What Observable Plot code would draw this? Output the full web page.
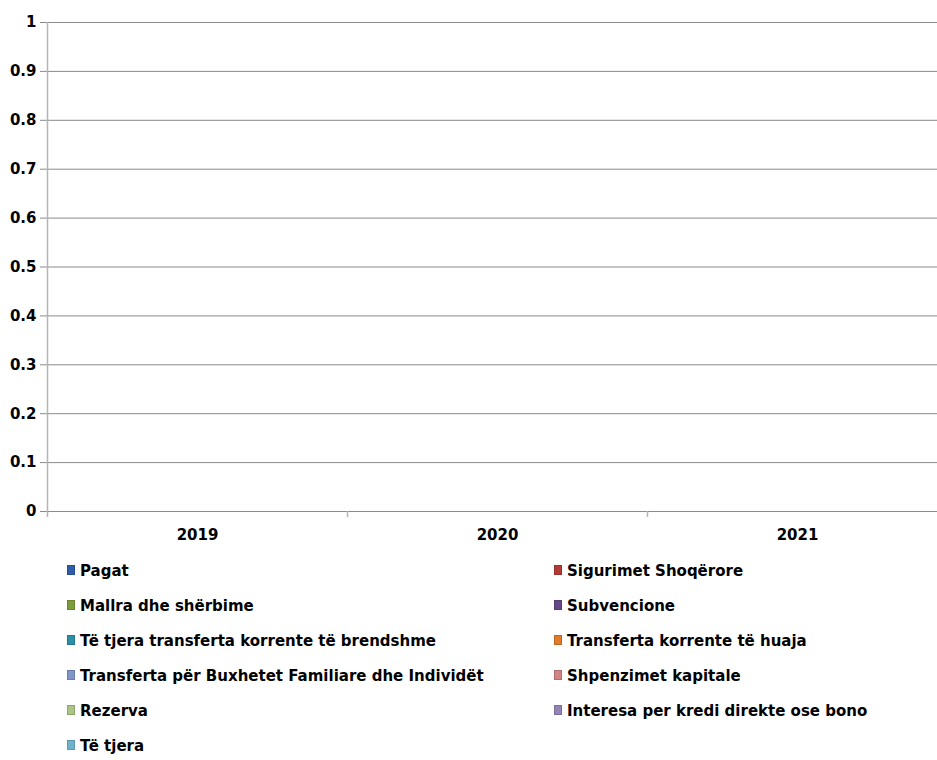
<!DOCTYPE html>
<html>
<head>
<meta charset="utf-8">
<script src="https://cdn.jsdelivr.net/npm/d3@7"></script>
<script src="https://cdn.jsdelivr.net/npm/@observablehq/plot@0.6"></script>
<style>
  body { margin: 0; background: #fff; font-family: "DejaVu Sans", sans-serif; }
  #legend { position: relative; width: 937px; font-weight: bold; font-size: 15px; color: #000; }
  .row { position: relative; height: 35px; }
  .item { display: flex; align-items: center; height: 35px; }
  .item.left { position: absolute; left: 67px; }
  .item.right { position: absolute; left: 554px; }
  .sw { width: 8px; height: 10px; margin-right: 5px; margin-top: -2px; box-sizing: border-box; }
</style>
</head>
<body>
<div id="chart"></div>
<div id="legend"></div>
<script>
const years = ["2019", "2020", "2021"];
const series = [
  "Pagat",
  "Sigurimet Shoqërore",
  "Mallra dhe shërbime",
  "Subvencione",
  "Të tjera transferta korrente të brendshme",
  "Transferta korrente të huaja",
  "Transferta për Buxhetet Familiare dhe Individët",
  "Shpenzimet kapitale",
  "Rezerva",
  "Interesa per kredi direkte ose bono",
  "Të tjera"
];
const colors = ["#2f5ea8", "#b23a37", "#7d9c3a", "#654887", "#2b8fa8", "#e07b28", "#7f97c8", "#d08483", "#a9c685", "#9384b5", "#6fb2cc"];
// values per series for 2019, 2020, 2021 (all empty / zero in the reference)
const Pagat = [0, 0, 0];
const Sigurimet = [0, 0, 0];
const Mallra = [0, 0, 0];
const Subvencione = [0, 0, 0];
const TransBrendshme = [0, 0, 0];
const TransHuaja = [0, 0, 0];
const TransFamiljare = [0, 0, 0];
const Kapitale = [0, 0, 0];
const Rezerva = [0, 0, 0];
const Interesa = [0, 0, 0];
const TeTjera = [0, 0, 0];
const yTicks = [0, 0.1, 0.2, 0.3, 0.4, 0.5, 0.6, 0.7, 0.8, 0.9, 1];

const valueLists = [Pagat, Sigurimet, Mallra, Subvencione, TransBrendshme, TransHuaja, TransFamiljare, Kapitale, Rezerva, Interesa, TeTjera];
const data = [];
series.forEach((s, i) => years.forEach((y, j) => data.push({series: s, year: y, value: valueLists[i][j]})));

const fontStyle = {fontFamily: "'DejaVu Sans', sans-serif", fontSize: "15px", fontWeight: "bold", color: "#000", background: "#fff"};

const plot = Plot.plot({
  width: 937,
  height: 553,
  marginLeft: 47,
  marginRight: 0,
  marginTop: 22,
  marginBottom: 42,
  style: fontStyle,
  x: {domain: years, range: [47, 947], paddingInner: 0.4, paddingOuter: 0.2, label: null},
  y: {domain: [0, 1], label: null},
  color: {domain: series, range: colors},
  marks: [
    Plot.ruleY(yTicks, {y: d => d, stroke: "#8a8a8a", strokeOpacity: 1}),
    Plot.barY(data, Plot.stackY({x: "year", y: "value", fill: "series"})),
    Plot.axisY(yTicks, {tickSize: 7, tickPadding: 4, stroke: "#8a8a8a", strokeOpacity: 1, tickFormat: d => String(d), fill: "#000"}),
    Plot.axisX({tickSize: 0, tickPadding: 18, fill: "#000"}),
    Plot.ruleX([years[0]], {x: d => d, dx: -150, stroke: "#b5b5b5", strokeWidth: 1.5, insetBottom: -6}),
    Plot.ruleX(years.slice(1), {x: d => d, dx: -150, y1: 0, y2: 0, stroke: "#b5b5b5", strokeWidth: 1.5, insetBottom: -6})
  ]
});
document.getElementById("chart").appendChild(plot);

// legend: two columns
const leg = d3.select("#legend");
for (let r = 0; r < Math.ceil(series.length / 2); r++) {
  const row = leg.append("div").attr("class", "row");
  [0, 1].forEach(c => {
    const i = r * 2 + c;
    if (i >= series.length) return;
    const it = row.append("div").attr("class", "item " + (c === 0 ? "left" : "right"));
    it.append("div").attr("class", "sw").style("background", colors[i]).style("border", "1px solid " + d3.color(colors[i]).darker(0.5));
    it.append("span").text(series[i]);
  });
}
</script>
</body>
</html>
